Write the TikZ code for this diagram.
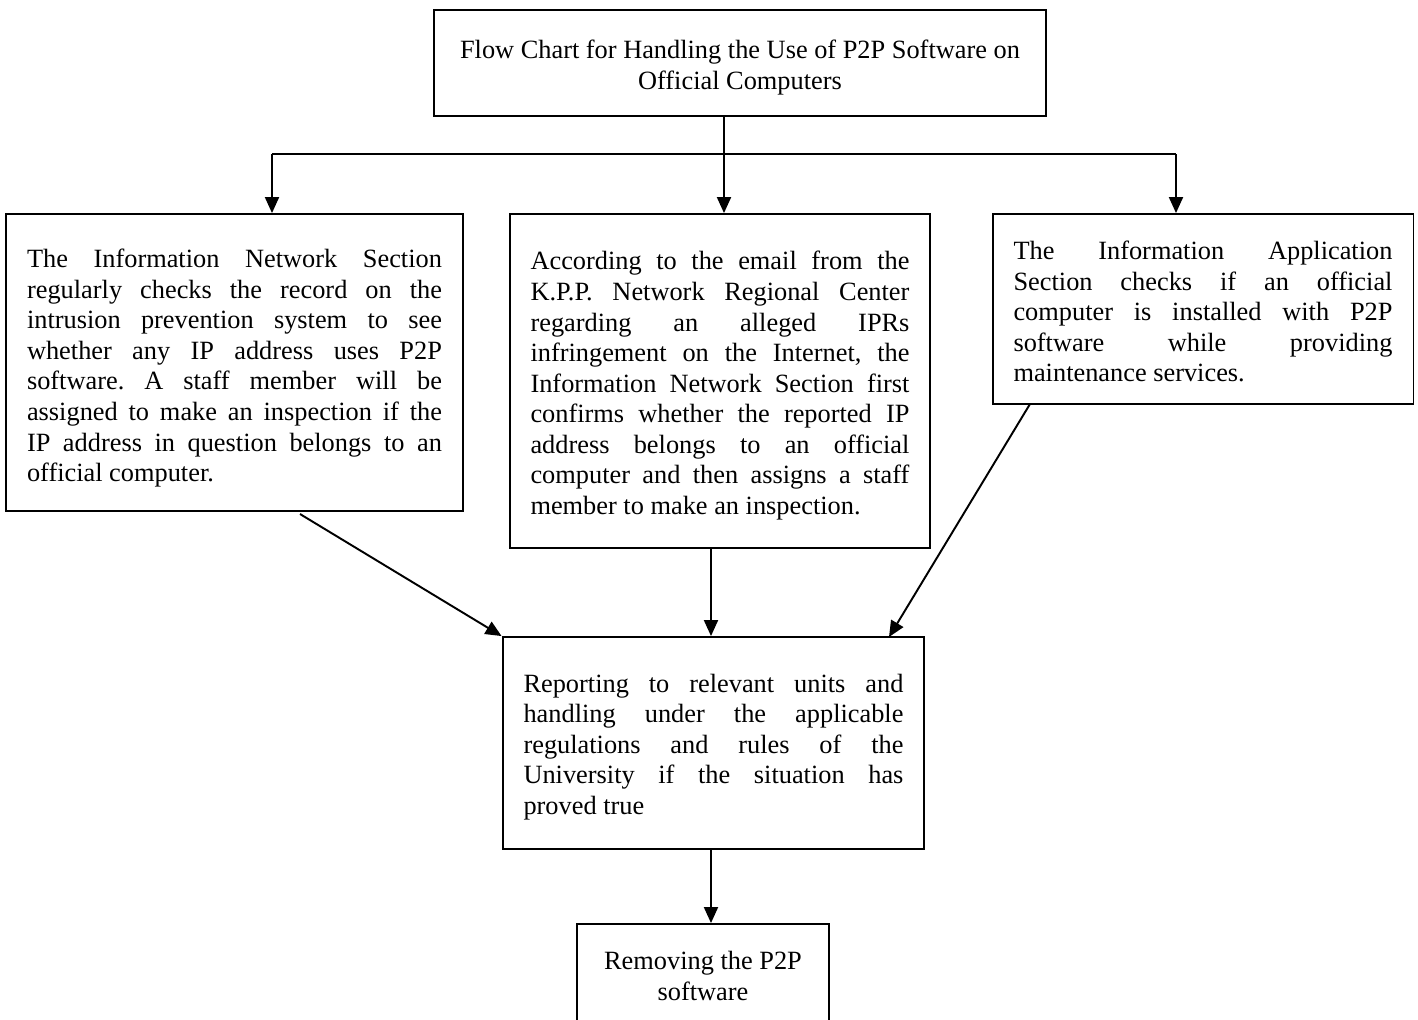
\documentclass[tikz,border=0pt]{standalone}
\usepackage{fontspec}
\setmainfont{Liberation Serif}
\usetikzlibrary{arrows.meta}
\newcommand\boxfont{\fontsize{15}{17.4}\selectfont\frenchspacing
  \tolerance=10000\relax\hbadness=10000\relax\hyphenpenalty=10000\relax}
% pushes the text of a box down by #1 px
\newcommand\vs[1]{\rule{0pt}{\dimexpr10.25pt+#1pt*113/100\relax}}
\begin{document}
\begin{tikzpicture}[x=0.02cm, y=-0.02cm, line width=1.1pt,
    box/.style={draw, rectangle, inner xsep=0.42cm, inner ysep=0pt, font=\boxfont},
    para/.style={box, align=justify},
    arr/.style={-{Triangle[length=0.32cm,width=0.28cm]}}]
  \useasboundingbox (0,0) rectangle (1418,1019);
  % boxes
  \node[box, align=center, minimum width=12.24cm, minimum height=2.12cm] (title) at (740,63)
    {\vs{5}Flow Chart for Handling the Use of P2P Software on\\Official Computers};
  \node[para, text width=8.3cm, minimum height=5.94cm] (left) at (234.5,362.5)
    {\vs{6}The Information Network Section\linebreak regularly checks the record on the\linebreak intrusion prevention system to see\linebreak whether any IP address uses P2P\linebreak software. A staff member will be\linebreak assigned to make an inspection if the\linebreak IP address in question belongs to an\linebreak official computer.};
  \node[para, text width=7.58cm, minimum height=6.68cm] (mid) at (720,381)
    {\vs{5}According to the email from the\linebreak K.P.P. Network Regional Center\linebreak regarding an alleged IPRs\linebreak infringement on the Internet, the\linebreak Information Network Section first\linebreak confirms whether the reported IP\linebreak address belongs to an official\linebreak computer and then assigns a staff\linebreak member to make an inspection.};
  \node[para, text width=7.58cm, minimum height=3.8cm] (right) at (1203,309)
    {\vs{3}The Information Application\linebreak Section checks if an official\linebreak computer is installed with P2P\linebreak software while providing\linebreak maintenance services.};
  \node[para, text width=7.6cm, minimum height=4.24cm] (rep) at (713.5,743)
    {\vs{4}Reporting to relevant units and\linebreak handling under the applicable\linebreak regulations and rules of the\linebreak University if the situation has\linebreak proved true};
  \node[box, align=center, minimum width=5.04cm, minimum height=2.04cm] (done) at (703,975)
    {\vs{1}Removing the P2P\\software};
  % connectors
  \coordinate (split) at (724,154);
  \coordinate (hl) at (272,154);
  \coordinate (hr) at (1176,154);
  \coordinate (axis) at (711,0);
  \coordinate (lfoot) at (300,514);
  \coordinate (rfoot) at (1030,404);
  \coordinate (rtip) at (889,637);
  \draw (title.south -| split) -- (split);
  \draw (hl) -- (hr);
  \draw[arr] (hl) -- (hl |- left.north);
  \draw[arr] (split) -- (split |- mid.north);
  \draw[arr] (hr) -- (hr |- right.north);
  \draw[arr] (lfoot) -- (rep.north west);
  \draw[arr] (axis |- mid.south) -- (axis |- rep.north);
  \draw[arr] (rfoot) -- (rtip);
  \draw[arr] (axis |- rep.south) -- (axis |- done.north);
\end{tikzpicture}
\end{document}
